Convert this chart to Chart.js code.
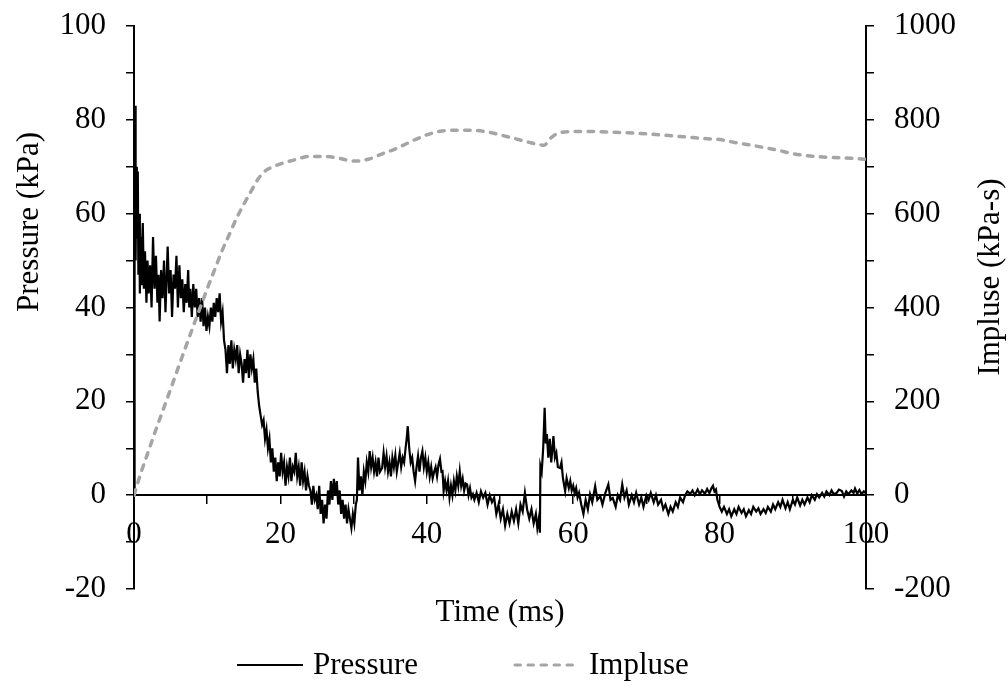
<!DOCTYPE html>
<html>
<head>
<meta charset="utf-8">
<title>Pressure and impulse</title>
<script src="https://cdn.jsdelivr.net/npm/chart.js@4.4.1/dist/chart.umd.min.js"></script>
<style>
  html, body { margin: 0; padding: 0; background: #fff; }
  canvas { display: block; }
</style>
</head>
<body>
<canvas id="myChart" width="1008" height="688"></canvas>
<script>
// pressure trace, [time (ms), pressure (kPa)]
const pressureTrace = [
  [0,0],[0.08,52],[0.15,83],[0.22,50],[0.3,66],[0.38,70],[0.45,55],[0.52,69],[0.6,47],[0.7,60],[0.8,43],[0.9,55],[0.98,45],
  [1.05,51],[1.2,58],[1.35,44],[1.5,52],[1.7,41],[1.85,50],[2.0,43],[2.2,49],[2.4,40],[2.6,55],[2.8,44],[3.0,51],[3.2,41],
  [3.35,47],[3.5,37],[3.7,48],[3.9,42],[4.1,50],[4.3,39],[4.45,46],[4.6,53],[4.8,43],[5.0,48],[5.2,38],[5.4,47],[5.6,44],
  [5.8,51],[6.0,40],[6.2,49],[6.4,42],[6.6,46],[6.8,39],[7.0,45],[7.2,41],[7.4,48],[7.55,40],[7.7,44],[7.9,38],[8.1,45],
  [8.3,40],[8.5,44],[8.7,38],[8.9,42],
  [9.1,37],[9.3,42],[9.5,36],[9.7,40],[9.9,35],[10.1,38],[10.3,36],[10.5,40],[10.7,37],[10.9,41],[11.1,38],[11.3,42],
  [11.5,39],[11.7,43],[11.9,37],[12.1,39],[12.3,33],
  [12.5,31],[12.7,26],[12.9,32],[13.1,28],[13.3,33],[13.5,27],[13.7,31],[13.9,29],[14.1,32],[14.3,26],[14.5,30],[14.7,28],
  [14.9,24],[15.1,29],[15.3,26],[15.5,31],[15.7,25],[15.9,30],[16.1,27],[16.3,29],[16.5,24],
  [16.7,27],[16.9,22],[17.1,19],[17.3,17],[17.5,15],[17.7,16],[17.9,12],[18.1,14],[18.3,10],[18.5,12],
  [18.7,7],[18.9,10],[19.1,5],[19.3,8],[19.5,3],[19.7,7],[19.9,4],[20.1,9],[20.3,5],[20.5,7],[20.7,2],[20.9,6],[21.1,4],
  [21.3,8],[21.5,3],[21.7,6],[21.9,5],[22.1,9],[22.3,4],[22.5,6],[22.7,2],[22.9,7],[23.1,3],[23.3,5],[23.5,1],[23.7,4],[23.9,2],
  [24.1,1],[24.3,-2],[24.5,2],[24.7,-1],[24.9,0],[25.1,-3],[25.3,2],[25.5,-4],[25.7,-1],[25.9,-6],[26.1,-2],[26.3,-5],
  [26.5,1],[26.7,-2],[26.9,3],[27.1,-1],[27.3,3.5],[27.5,0],[27.7,3],[27.9,-2],[28.1,1],[28.3,-4],[28.5,-1],[28.7,-5],
  [28.9,-2],[29.1,-6],[29.3,-3],[29.5,-5],[29.7,-7],[29.9,-4],[30.1,-6],[30.3,-2],
  [30.45,-1],[30.6,8],[30.8,1],[31.0,4],[31.2,0],[31.4,5],[31.6,3],[31.8,7],[32.0,5],[32.2,9.4],[32.4,6],[32.6,8],[32.8,5],
  [33.0,7],[33.2,4],[33.4,8],[33.6,5],[33.9,5.8],[34.1,9],[34.3,6],[34.5,8.3],[34.7,5],[34.9,7],[35.1,4],[35.3,8],[35.5,6],
  [35.7,8.5],[35.9,5],[36.1,7],[36.3,9],[36.5,6],[36.7,8],[36.9,7],[37.1,10],[37.25,12],[37.4,14.7],[37.6,10],[37.8,7],
  [38.0,8],[38.2,5],[38.4,3],[38.6,6],[38.8,8.3],[39.0,5],[39.2,8],[39.4,9.4],[39.6,6],[39.8,8],[40.0,5],[40.2,7],[40.4,4],
  [40.6,6],[40.8,3.6],[41.0,5],[41.2,6],[41.4,4],[41.6,6.5],[41.8,7.7],[42.0,5],[42.15,5.1],[42.3,0.9],[42.5,3],[42.7,1],
  [42.9,3],[43.1,-0.5],[43.3,2],[43.5,0],[43.7,3],[43.9,1],[44.1,4],[44.3,2],[44.5,5.1],[44.7,2],[44.9,3.5],[45.1,1],
  [45.3,2.5],[45.5,2.3],[45.7,0],[45.9,1.5],[46.1,-0.5],[46.3,0.2],
  [46.5,-1],[46.8,0.5],[47.1,-1.5],[47.4,0.8],[47.7,-0.5],[48.0,0.5],[48.3,-2],[48.6,0],[48.9,-1.5],[49.2,-0.5],[49.5,-4],
  [49.8,-2],[50.1,-5],[50.4,-3],[50.7,-6.5],[51.0,-4],[51.3,-6],[51.6,-3.5],[51.9,-5.5],[52.2,-3],[52.5,-6],[52.8,-2],
  [53.1,-3.5],[53.4,0.5],[53.7,-3],[54.0,-5],[54.3,-3],[54.6,-6],[54.9,-4],[55.1,-7],[55.3,-5],[55.45,-8],
  [55.52,6.2],[55.7,5],[55.9,10],[56.1,18.6],[56.25,11],[56.4,13],[56.6,8],[56.8,12],[57.0,7],[57.3,12.6],[57.5,8],[57.7,9],
  [57.9,6],[58.2,5.8],[58.4,7],[58.6,3.6],[58.9,0.9],[59.1,3.6],[59.4,1.5],[59.6,3],[59.8,1],[60.0,2],[60.2,0.4],[60.4,1.5],
  [60.6,-0.5],[60.8,0.5],
  [61.1,-2],[61.4,-4],[61.7,-1],[62.0,-3],[62.3,0.2],[62.6,-1.5],[63.0,1.9],[63.3,-1],[63.7,-0.2],[64.0,-2],[64.4,0.5],
  [64.8,2.3],[65.1,-1],[65.4,-0.6],[65.8,-2.5],[66.1,0],[66.4,-1],[66.7,2.3],[67.0,-0.5],[67.3,1],[67.6,-2],[68.0,0],
  [68.3,-1.5],[68.6,0.5],[69.0,-2],[69.3,-0.5],[69.6,-2.5],[70.0,0],[70.3,-1],[70.6,0.5],[71.0,-1.5],[71.3,0],[71.6,-2],
  [72.0,-1],[72.3,-3],[72.6,-2],[73.0,-4],[73.3,-2.5],[73.6,-3.5],[74.0,-1.5],[74.3,-2.5],[74.6,-0.5],[75.0,-1.5],[75.3,0],
  [75.6,0.8],[76.0,0.3],[76.3,1],[76.6,0],[77.0,1.2],[77.3,0.2],[77.6,1],[78.0,0.3],[78.3,1.3],[78.6,0.4],[78.9,1.5],
  [79.1,2],[79.3,0.8],[79.5,1.2],[79.7,-1],[80.0,-2.5],
  [80.3,-3.5],[80.6,-2.5],[81.0,-4],[81.3,-3],[81.6,-4.5],[82.0,-3],[82.3,-4],[82.6,-2.5],[83.0,-3.8],[83.3,-3],[83.6,-4.5],
  [84.0,-3.2],[84.3,-4],[84.6,-2.5],[85.0,-3.5],[85.3,-2.8],[85.6,-4],[86.0,-3],[86.3,-3.8],[86.6,-2.5],[87.0,-3.5],
  [87.3,-2],[87.6,-3],[88.0,-1.5],[88.3,-2.5],[88.6,-1],[89.0,-2.8],[89.3,-1.5],[89.6,-3],[90.0,-1],[90.3,-2],[90.6,-0.5],
  [91.0,-2.2],[91.3,-1],[91.6,-2],[92.0,-0.5],[92.3,-1.5],[92.6,0],[93.0,-1],
  [93.3,0.2],[93.6,-0.5],[94.0,0.5],[94.3,-0.3],[94.6,0.8],[95.0,0],[95.3,1],[95.6,0.2],[96.0,0.5],[96.3,1.2],[96.7,0.9],
  [97.0,-0.3],[97.3,0.8],[97.6,0.2],[98.0,1],[98.3,0.5],[98.5,1.4],[98.8,0.3],[99.1,1.1],[99.4,0.2],[99.7,0.8],[100,0.4]
];

// impulse, [time (ms), impulse (kPa-s)]
const impulseTrace = [
  [0,0],[1,50],[2,95],[3,140],[4,183],[5,226],[6,270],[7,313],[8,356],[9,398],[10,440],[11,480],[12,520],[13,555],
  [14,590],[15,620],[16,648],[17,675],[18,692],[19,700],[20,706],[22,715],[24,722],[26,722],[28,718],[30,712],[32,716],
  [34,728],[36,740],[38,755],[40,768],[42,776],[44,778],[46,778],[48,775],[50,768],[52,760],[54,752],[55,748],[56,746],
  [57,762],[58,772],[60,775],[62,775],[65,774],[70,770],[75,764],[78,760],[80,758],[82,752],[85,744],[88,735],[90,728],
  [93,722],[95,720],[98,718],[100,716]
];

const seriesNames = ['Pressure', 'Impluse'];
const axisTitles = { x: 'Time (ms)', y: 'Pressure (kPa)', y1: 'Impluse (kPa-s)' };

const FONT_FAMILY = "'Liberation Serif', 'Times New Roman', serif";
const FONT_SIZE = 31;
Chart.defaults.font.family = FONT_FAMILY;
Chart.defaults.font.size = FONT_SIZE;
Chart.defaults.color = '#000';

const ctx = document.getElementById('myChart');

// only every second tick gets a label, the others are minor marks
function everyOther(step) {
  return (value) => (Math.round(value) % step === 0 ? String(value) : '');
}

// fixed axis width, and no extra room reserved above/below for the end labels
function fixWidth(w) {
  return (scale) => {
    scale.width = w;
    scale.paddingTop = 0;
    scale.paddingBottom = 0;
  };
}

const tickGrid = { drawOnChartArea: false, drawTicks: true, tickLength: 8, color: '#000', lineWidth: 1.5 };
const axisBorder = { display: true, color: '#000', width: 2 };

// titles and legend drawn the way the spreadsheet lays them out
const excelDecor = {
  id: 'excelDecor',
  afterDraw(chart) {
    const c = chart.ctx;
    const area = chart.chartArea;
    c.save();
    c.fillStyle = '#000';
    c.font = FONT_SIZE + 'px ' + FONT_FAMILY;
    c.textAlign = 'center';
    c.textBaseline = 'middle';

    c.fillText(axisTitles.x, (area.left + area.right) / 2, 613);

    c.save();
    c.translate(30, 222);
    c.rotate(-Math.PI / 2);
    c.fillText(axisTitles.y, 0, 0);
    c.restore();

    c.save();
    c.translate(991, 277);
    c.rotate(-Math.PI / 2);
    c.fillText(axisTitles.y1, 0, 0);
    c.restore();

    // legend
    const items = [
      { x: 237, ds: chart.data.datasets[0] },
      { x: 513, ds: chart.data.datasets[1] }
    ];
    const ly = 665;
    c.textAlign = 'left';
    items.forEach((it) => {
      c.save();
      c.strokeStyle = it.ds.borderColor;
      c.lineWidth = it.ds.borderDash ? 3 : 2;
      c.lineCap = it.ds.borderCapStyle || 'butt';
      c.setLineDash(it.ds.borderDash || []);
      c.beginPath();
      c.moveTo(it.x + (it.ds.borderDash ? 2 : 0), ly);
      c.lineTo(it.x + 66, ly);
      c.stroke();
      c.restore();
      c.fillText(it.ds.label, it.x + 76, ly + 1);
    });
    c.restore();
  }
};

const myChart = new Chart(ctx, {
  type: 'line',
  data: {
    datasets: [
      {
        label: seriesNames[0],
        data: pressureTrace.map(([t, p]) => ({ x: t, y: p })),
        yAxisID: 'y',
        borderColor: '#000',
        borderWidth: 2.2,
        pointRadius: 0,
        tension: 0,
        order: 1
      },
      {
        label: seriesNames[1],
        data: impulseTrace.map(([t, v]) => ({ x: t, y: v })),
        yAxisID: 'y1',
        borderColor: '#a5a5a5',
        borderWidth: 3.5,
        borderDash: [5.5, 7.5],
        borderCapStyle: 'round',
        pointRadius: 0,
        cubicInterpolationMode: 'monotone',
        order: 0
      }
    ]
  },
  options: {
    responsive: false,
    animation: false,
    devicePixelRatio: 1,
    layout: { padding: { top: 26, bottom: 99, left: 0, right: 0 } },
    plugins: {
      legend: { display: false },
      tooltip: { enabled: false }
    },
    scales: {
      x: {
        type: 'linear',
        min: 0,
        max: 100,
        position: { y: 0 },
        grid: tickGrid,
        border: axisBorder,
        ticks: { stepSize: 10, padding: 13, maxRotation: 0, autoSkip: false, callback: everyOther(20) }
      },
      y: {
        min: -20,
        max: 100,
        position: 'left',
        grid: tickGrid,
        border: axisBorder,
        ticks: { stepSize: 10, padding: 20, autoSkip: false, callback: everyOther(20) },
        afterFit: fixWidth(134)
      },
      y1: {
        min: -200,
        max: 1000,
        position: 'right',
        grid: tickGrid,
        border: axisBorder,
        ticks: { stepSize: 100, padding: 20, autoSkip: false, callback: everyOther(200) },
        afterFit: fixWidth(142)
      }
    }
  },
  plugins: [excelDecor]
});
</script>
</body>
</html>
